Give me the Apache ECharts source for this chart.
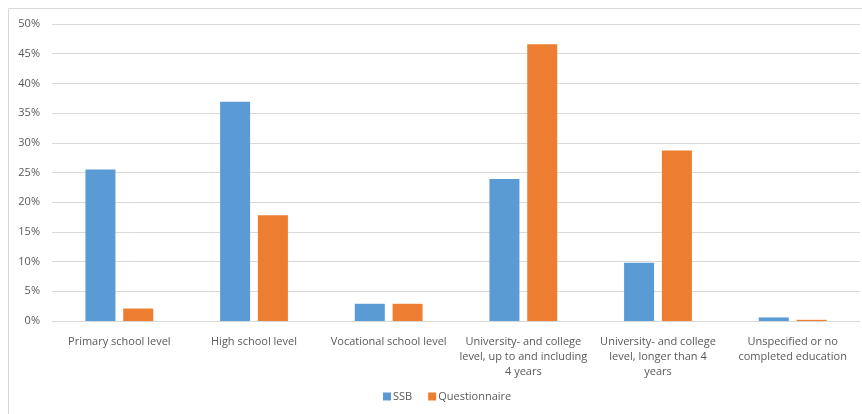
<!DOCTYPE html>
<html>
<head>
<meta charset="utf-8">
<script src="https://cdn.jsdelivr.net/npm/echarts@6/dist/echarts.min.js"></script>
<style>
  html, body { margin: 0; padding: 0; background: #fff; }
  #chart { width: 862px; height: 414px; }
</style>
</head>
<body>
<div id="chart"></div>
<script>
// Education level shares: SSB statistics versus questionnaire respondents
const categories = [
  'Primary school level',
  'High school level',
  'Vocational school level',
  'University- and college\nlevel, up to and including\n4 years',
  'University- and college\nlevel, longer than 4\nyears',
  'Unspecified or no\ncompleted education'
];
const ssbValues = [25.5, 36.9, 2.9, 23.9, 9.8, 0.6];
const questionnaireValues = [2.1, 17.8, 2.9, 46.6, 28.7, 0.2];
const yTicks = { min: 0, max: 50, interval: 5 };

const textColor = '#595959';
const fontFamily = 'Open Sans, Liberation Sans, sans-serif';

const chart = echarts.init(document.getElementById('chart'), null, { renderer: 'canvas' });
chart.setOption({
  animation: false,
  backgroundColor: '#ffffff',
  graphic: [{
    type: 'rect',
    shape: { x: 8.5, y: 8.5, width: 880, height: 440 },
    style: { fill: 'none', stroke: '#d9d9d9', lineWidth: 1 },
    silent: true
  }],
  grid: { left: 52, right: 2, top: 24, bottom: 93, containLabel: false },
  legend: {
    bottom: 7,
    left: 378,
    itemWidth: 8,
    itemHeight: 8,
    itemGap: 16,
    icon: 'rect',
    textStyle: { color: textColor, fontSize: 11, fontFamily: fontFamily, padding: [0, 0, 0, -3] },
    data: ['SSB', 'Questionnaire']
  },
  xAxis: {
    type: 'category',
    data: categories,
    axisLine: { show: true, lineStyle: { color: '#d9d9d9', width: 1 } },
    axisTick: { show: false },
    axisLabel: {
      interval: 0,
      color: textColor,
      fontSize: 11,
      fontFamily: fontFamily,
      lineHeight: 15,
      margin: 13,
      align: 'center'
    }
  },
  yAxis: {
    type: 'value',
    min: yTicks.min,
    max: yTicks.max,
    interval: yTicks.interval,
    axisLine: { show: false },
    axisTick: { show: false },
    splitLine: { lineStyle: { color: '#d9d9d9', width: 1 } },
    axisLabel: {
      color: textColor,
      fontSize: 11,
      fontFamily: fontFamily,
      margin: 12,
      formatter: v => v + '%'
    }
  },
  series: [
    {
      name: 'SSB',
      type: 'bar',
      data: ssbValues,
      barWidth: 30,
      barGap: '26%',
      itemStyle: { color: '#5B9BD5' }
    },
    {
      name: 'Questionnaire',
      type: 'bar',
      data: questionnaireValues,
      barWidth: 30,
      barGap: '26%',
      itemStyle: { color: '#ED7D31' }
    }
  ]
});
</script>
</body>
</html>
